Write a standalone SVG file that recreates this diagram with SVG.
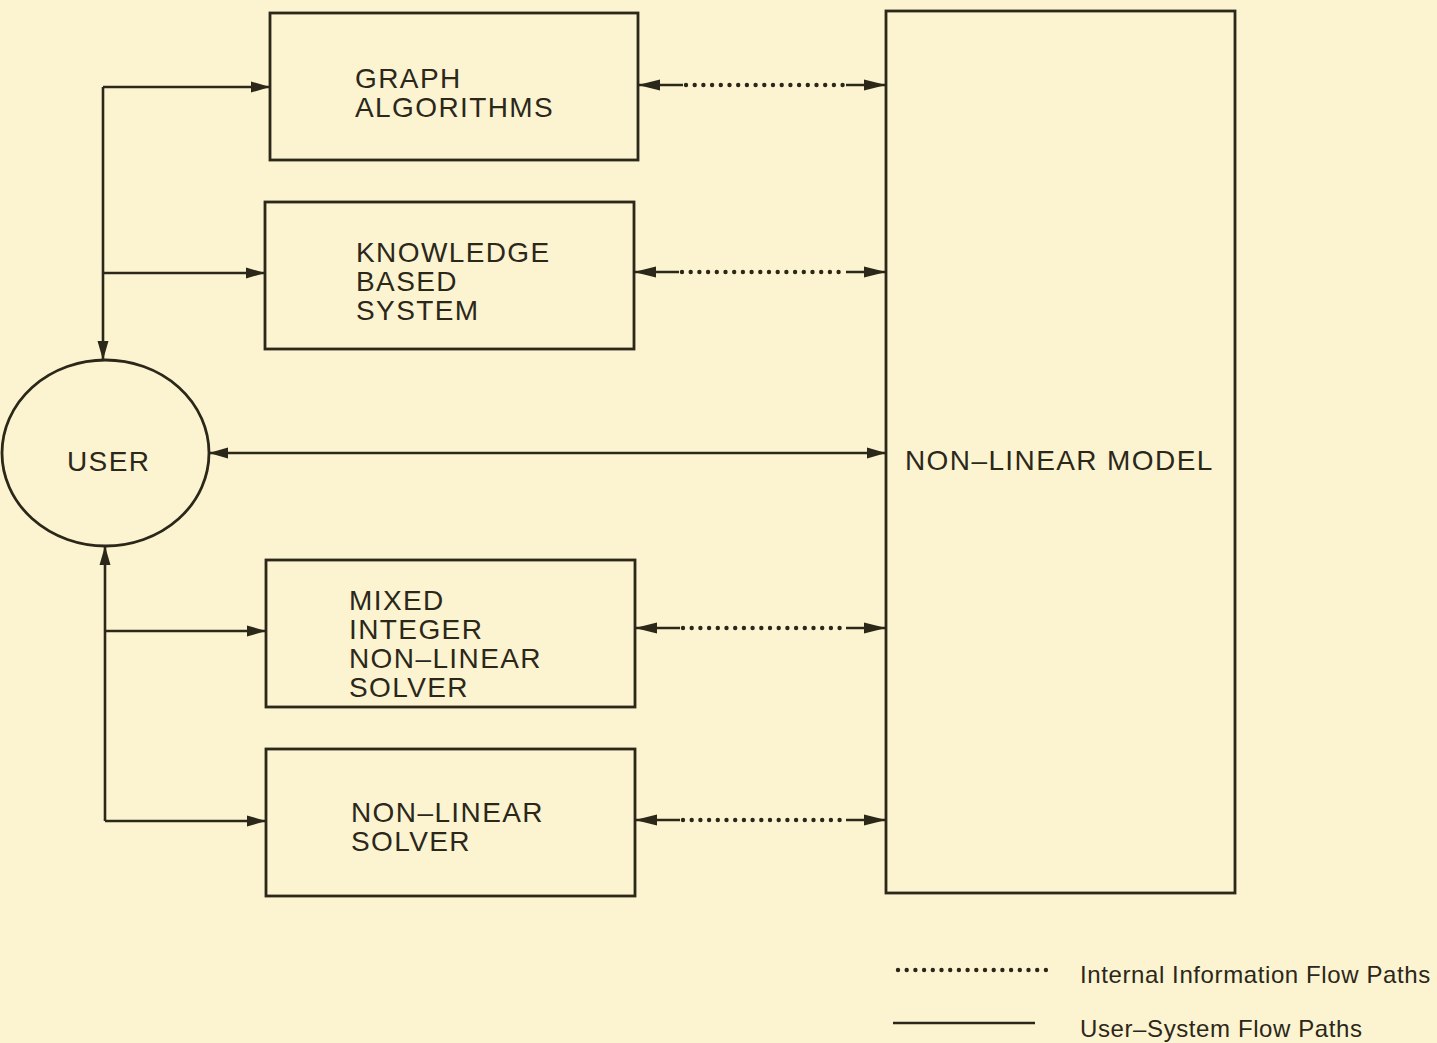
<svg xmlns="http://www.w3.org/2000/svg" width="1437" height="1043" viewBox="0 0 1437 1043">
<style>
.bg{fill:#fcf4d1}
.box{fill:none;stroke:#2b2719;stroke-width:2.8}
.ln{fill:none;stroke:#2b2719;stroke-width:2.6}
.dot{fill:none;stroke:#2b2719;stroke-width:4.4;stroke-linecap:round;stroke-dasharray:0 8.7}
.t{font-family:"Liberation Sans",Arial,sans-serif;font-size:28px;letter-spacing:1.4px;fill:#2b2719}
.lg{font-family:"Liberation Sans",Arial,sans-serif;font-size:24px;letter-spacing:0.6px;fill:#2b2719}
</style>
<defs>
<marker id="ah" markerUnits="userSpaceOnUse" markerWidth="20" markerHeight="14" refX="19" refY="7" orient="auto-start-reverse" viewBox="0 0 20 14">
<path d="M0,1.5 L19,7 L0,12.5 Z" fill="#2b2719"/>
</marker>
<marker id="ah2" markerUnits="userSpaceOnUse" markerWidth="23" markerHeight="14" refX="22" refY="7" orient="auto-start-reverse" viewBox="0 0 23 14">
<path d="M0,1.5 L22,7 L0,12.5 Z" fill="#2b2719"/>
</marker>
</defs>
<rect class="bg" x="0" y="0" width="1437" height="1043"/>

<g id="user">
<ellipse class="box" cx="105.5" cy="453" rx="103.5" ry="93"/>
<text class="t" x="67" y="471">USER</text>
</g>
<g id="graph-algorithms">
<rect class="box" x="270" y="13" width="368" height="147"/>
<text class="t" x="355" y="88">GRAPH</text>
<text class="t" x="355" y="117">ALGORITHMS</text>
</g>
<g id="knowledge-based-system">
<rect class="box" x="265" y="202" width="369" height="147"/>
<text class="t" x="356" y="262">KNOWLEDGE</text>
<text class="t" x="356" y="291">BASED</text>
<text class="t" x="356" y="320">SYSTEM</text>
</g>
<g id="mixed-integer-solver">
<rect class="box" x="266" y="560" width="369" height="147"/>
<text class="t" x="349" y="610">MIXED</text>
<text class="t" x="349" y="639">INTEGER</text>
<text class="t" x="349" y="668">NON–LINEAR</text>
<text class="t" x="349" y="697">SOLVER</text>
</g>
<g id="non-linear-solver">
<rect class="box" x="266" y="749" width="369" height="147"/>
<text class="t" x="351" y="822">NON–LINEAR</text>
<text class="t" x="351" y="851">SOLVER</text>
</g>
<g id="non-linear-model">
<rect class="box" x="886" y="11" width="349" height="882"/>
<text class="t" x="905" y="470">NON–LINEAR MODEL</text>
</g>

<g id="connectors">
<path class="ln" d="M103,87 H270" marker-end="url(#ah)"/>
<path class="ln" d="M103,87 V360" marker-end="url(#ah)"/>
<path class="ln" d="M103,273 H265" marker-end="url(#ah)"/>
<path class="ln" d="M105,821 V546" marker-end="url(#ah)"/>
<path class="ln" d="M105,631 H266" marker-end="url(#ah)"/>
<path class="ln" d="M105,821 H266" marker-end="url(#ah)"/>
<path class="ln" d="M209,453 H886" marker-start="url(#ah)" marker-end="url(#ah)"/>

<path class="ln" d="M683,85 H638" marker-end="url(#ah2)"/>
<path class="dot" d="M686,85 H846"/>
<path class="ln" d="M846,85 H886" marker-end="url(#ah2)"/>

<path class="ln" d="M679,272 H634" marker-end="url(#ah2)"/>
<path class="dot" d="M682,272 H846"/>
<path class="ln" d="M846,272 H886" marker-end="url(#ah2)"/>

<path class="ln" d="M680,628 H635" marker-end="url(#ah2)"/>
<path class="dot" d="M683,628 H846"/>
<path class="ln" d="M846,628 H886" marker-end="url(#ah2)"/>

<path class="ln" d="M680,820 H635" marker-end="url(#ah2)"/>
<path class="dot" d="M683,820 H846"/>
<path class="ln" d="M846,820 H886" marker-end="url(#ah2)"/>
</g>

<g id="legend">
<path class="dot" d="M898,970 H1048"/>
<text class="lg" x="1080" y="983">Internal Information Flow Paths</text>
<path class="ln" d="M893,1023 H1035"/>
<text class="lg" x="1080" y="1037">User–System Flow Paths</text>
</g>
</svg>
